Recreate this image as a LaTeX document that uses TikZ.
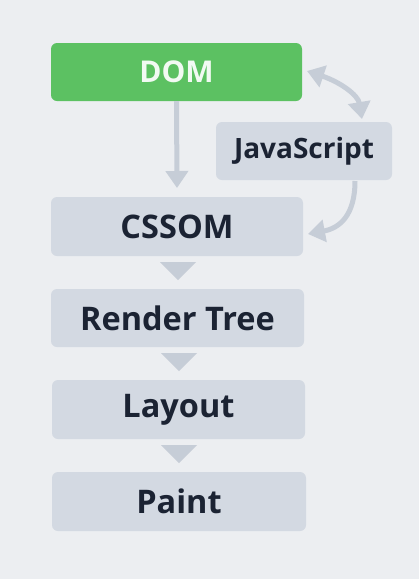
\documentclass[tikz,border=0pt]{standalone}
\usepackage{fontspec}
\setmainfont{Open Sans}
\usetikzlibrary{arrows.meta}
\definecolor{bg}{HTML}{ECEEF1}
\definecolor{boxfill}{HTML}{D3D9E2}
\definecolor{green}{HTML}{5CC162}
\definecolor{arr}{HTML}{C6CDD7}
\definecolor{txt}{HTML}{1B2333}
\begin{document}
\begin{tikzpicture}[x=1pt,y=-1pt,
  box/.style={fill=boxfill, rounded corners=6pt, inner sep=0pt, font=\bfseries\fontsize{32.5}{32.5}\selectfont, text=txt},
  tri/.style={fill=arr},
  conn/.style={draw=arr, line width=5pt, -{Triangle[width=22pt,length=17pt]}},
  dconn/.style={draw=arr, line width=5pt, {Triangle[width=22pt,length=17pt]}-{Triangle[width=22pt,length=17pt]}}]
\fill[bg] (0,0) rectangle (419,579);
\useasboundingbox (0,0) rectangle (419,579);
\node[box, fill=green, text=white!92!green, font=\bfseries\fontsize{30}{30}\selectfont, minimum width=251pt, minimum height=58pt] (dom) at (176.5,72) {DOM};
\node[box, font=\bfseries\fontsize{28}{28}\selectfont, minimum width=176pt, minimum height=58pt] (js) at (304,151) {JavaScript};
\node[box, minimum width=252pt, minimum height=59pt] (cssom) at (177,226.5) {CSSOM};
\node[box, minimum width=253pt, minimum height=58pt] (render) at (177.5,318) {Render Tree};
\node[box, minimum width=253pt, minimum height=59pt] (layout) at (178.5,409.5) {Layout};
\node[box, minimum width=254pt, minimum height=59pt] (paint) at (179,501.5) {Paint};
% DOM -> CSSOM
\draw[conn] (dom.south) -- (177,188);
% triangles between boxes
\fill[arr] (160,262) -- (196,262) -- (178,280) -- cycle;
\fill[arr] (161,353) -- (197,353) -- (179,371) -- cycle;
\fill[arr] (161,445) -- (197,445) -- (179,463) -- cycle;
% curved arrows
\draw[dconn] (307,71) .. controls (340,82) and (358,95) .. (362,119);
\draw[conn] (355,181) .. controls (355,215) and (340,228) .. (308,234);
\end{tikzpicture}
\end{document}
